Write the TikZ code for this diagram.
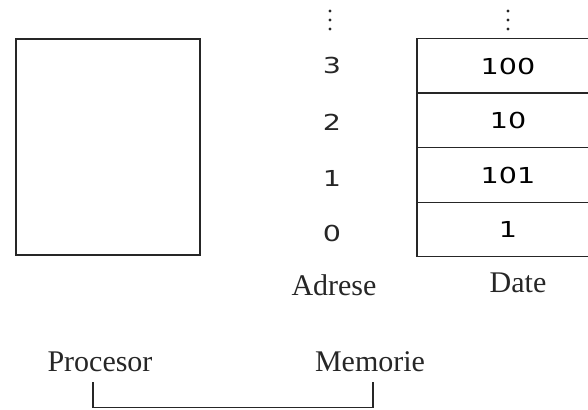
\documentclass[tikz,border=0pt]{standalone}
\usepackage{fontspec}
\usepackage{graphicx}
\setmainfont{Liberation Serif}
\newfontfamily\digitfont{DejaVu Sans}
\newcommand{\dg}[1]{\scalebox{1.3}[1]{\digitfont\fontsize{22}{22}\selectfont #1}}
\definecolor{ink}{HTML}{262626}
\tikzset{
  box/.style={draw=ink, line width=1.6pt, minimum width=184pt, minimum height=216pt, inner sep=0pt},
  cell/.style={minimum width=182pt, minimum height=54pt, inner sep=0pt},
  cellline/.style={draw=ink, line width=1.4pt},
  num/.style={inner sep=0pt, text=ink},
  lbl/.style={inner sep=0pt, font=\fontsize{30}{30}\selectfont, text=ink, anchor=base},
  conn/.style={draw=ink, line width=1.2pt},
  vdot/.style={circle, fill=ink, inner sep=0pt, minimum size=3.4pt}
}
\begin{document}
\begin{tikzpicture}[x=1pt,y=-1pt]
\useasboundingbox (0,0) rectangle (588,409);
\clip (0,0) rectangle (588,409);
% processor box
\node[box] (proc) at (108,147) {};
% memory cells
\node[cell] (c3) at (508,66) {\dg{100}};
\node[cell] (c2) at (508,120) {\dg{10}};
\node[cell] (c1) at (508,175) {\dg{101}};
\node[cell] (c0) at (508,229.5) {\dg{1}};
\path[cellline] (c3.north east) -- (c3.north west) -- (c0.south west) -- (c0.south east);
\path[cellline] (c3.south west) -- (c3.south east);
\path[cellline] (c2.south west) -- (c2.south east);
\path[cellline] (c1.south west) -- (c1.south east);
% addresses
\node[num] (a3) at (332,65.5) {\dg{3}};
\node[num] (a2) at (332,122) {\dg{2}};
\node[num] (a1) at (332,178) {\dg{1}};
\node[num] (a0) at (332,233) {\dg{0}};
% vertical ellipses
\foreach \yy [count=\i] in {11,20,29} {
  \node[vdot] (da\i) at (330,\yy) {};
  \node[vdot] (dd\i) at (508,\yy) {};
}
% labels
\node[lbl] (adr) at (334,295) {Adrese};
\node[lbl] (dat) at (518,292) {Date};
\node[lbl] (plbl) at (100,371) {Procesor};
\node[lbl] (mlbl) at (370,371) {Memorie};
% connector
\coordinate (pend) at (93,382);
\coordinate (mend) at (373,382);
\path[conn] (pend) -- (pend |- 0,407.5) -- (mend |- 0,407.5) -- (mend);
\end{tikzpicture}
\end{document}
